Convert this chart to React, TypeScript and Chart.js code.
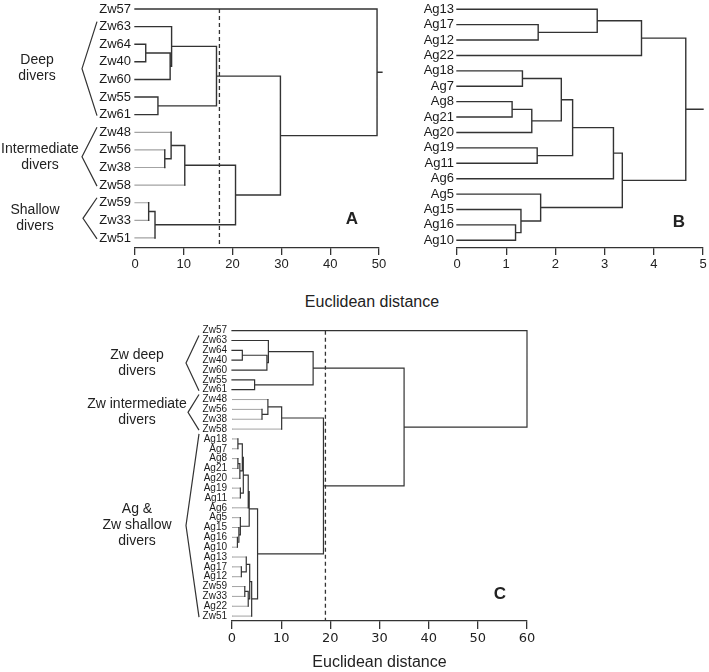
import React, { useEffect, useRef } from "react";
import { Chart, registerables } from "chart.js";
Chart.register(...registerables);

const FONT = "'Liberation Sans', Arial, Helvetica, sans-serif";
const WIDE_FONT = "'DejaVu Sans', 'Liberation Sans', Arial, sans-serif";
const DARK = "#333333";
const PALE = "#a3a3a3";

type Merge = [string, string, number];

// ---------- Panel A ----------
const leavesA = ["Zw57", "Zw63", "Zw64", "Zw40", "Zw60", "Zw55", "Zw61", "Zw48", "Zw56", "Zw38", "Zw58", "Zw59", "Zw33", "Zw51"];
const mergesA: Merge[] = [
  ["Zw64", "Zw40", 2.2], ["#0", "Zw60", 7.2], ["Zw63", "#1", 7.5], ["Zw55", "Zw61", 4.7], ["#2", "#3", 16.7],
  ["Zw56", "Zw38", 6.1], ["Zw48", "#5", 7.4], ["#6", "Zw58", 10.2], ["Zw59", "Zw33", 2.8], ["#8", "Zw51", 4.1],
  ["#7", "#9", 20.6], ["#4", "#10", 29.8], ["Zw57", "#11", 49.6],
];
const rootTailA = 50.6;
const cutA = 17.3;
const paleA = ["Zw48", "Zw56", "Zw38", "Zw58", "Zw59", "Zw33", "Zw51"];
const ticksA = [0, 10, 20, 30, 40, 50];

// ---------- Panel B ----------
const leavesB = ["Ag13", "Ag17", "Ag12", "Ag22", "Ag18", "Ag7", "Ag8", "Ag21", "Ag20", "Ag19", "Ag11", "Ag6", "Ag5", "Ag15", "Ag16", "Ag10"];
const mergesB: Merge[] = [
  ["Ag17", "Ag12", 1.65], ["Ag13", "#0", 2.85], ["#1", "Ag22", 3.75], ["Ag18", "Ag7", 1.33], ["Ag8", "Ag21", 1.12],
  ["#4", "Ag20", 1.52], ["#3", "#5", 2.12], ["Ag19", "Ag11", 1.63], ["#6", "#7", 2.35], ["#8", "Ag6", 3.18],
  ["Ag16", "Ag10", 1.19], ["Ag15", "#10", 1.3], ["Ag5", "#11", 1.7], ["#9", "#12", 3.36], ["#2", "#13", 4.65],
];
const rootTailB = 5.0;
const paleB: string[] = [];
const ticksB = [0, 1, 2, 3, 4, 5];

// ---------- Panel C ----------
const leavesC = ["Zw57", "Zw63", "Zw64", "Zw40", "Zw60", "Zw55", "Zw61", "Zw48", "Zw56", "Zw38", "Zw58",
  "Ag18", "Ag7", "Ag8", "Ag21", "Ag20", "Ag19", "Ag11", "Ag6", "Ag5", "Ag15", "Ag16", "Ag10",
  "Ag13", "Ag17", "Ag12", "Zw59", "Zw33", "Ag22", "Zw51"];
const mergesC: Merge[] = [
  ["Zw64", "Zw40", 2.1], ["#0", "Zw60", 7.1], ["Zw63", "#1", 7.4], ["Zw55", "Zw61", 4.6], ["#2", "#3", 16.5],
  ["Zw56", "Zw38", 6.1], ["Zw48", "#5", 7.3], ["#6", "Zw58", 10.1],
  ["Ag18", "Ag7", 1.2], ["Ag8", "Ag21", 1.2], ["#9", "Ag20", 1.6], ["#8", "#10", 2.1], ["Ag19", "Ag11", 1.7],
  ["#11", "#12", 2.3], ["#13", "Ag6", 3.3], ["Ag16", "Ag10", 1.1], ["Ag15", "#15", 1.4], ["Ag5", "#16", 1.7],
  ["#14", "#17", 3.5],
  ["Ag17", "Ag12", 1.9], ["Ag13", "#19", 2.9], ["Zw59", "Zw33", 2.6], ["#21", "Ag22", 3.3], ["#20", "#22", 3.6],
  ["#23", "Zw51", 4.0], ["#18", "#24", 5.2],
  ["#7", "#25", 18.6], ["#4", "#26", 35.0], ["Zw57", "#27", 60.0],
];
const rootTailC = 60.0;
const cutC = 19.0;
const paleC = ["Zw48", "Zw56", "Zw38", "Zw58", "Ag18", "Ag7", "Ag8", "Ag21", "Ag20", "Ag19", "Ag11", "Ag6", "Ag5",
  "Ag15", "Ag16", "Ag10", "Ag13", "Ag17", "Ag12", "Zw59", "Zw33", "Ag22", "Zw51"];
const ticksC = [0, 10, 20, 30, 40, 50, 60];

const axisTitle = "Euclidean distance";

interface Group { lines: string[]; from: string; to: string; textX: number; endX: number; apexX: number; }
interface Panel {
  leaves: string[]; merges: Merge[]; tail: number; cut: number | null; pale: string[]; xTicks: number[];
  box: { left: number; top: number; width: number; height: number };
  yRange: [number, number]; yAxisWidth: number; xAxisHeight: number; pad: { top: number; right: number };
  leafFont: number; leafPad: number; tickFont: number; tickFamily: string; tickLen: number; tickPad: number; lineW: number;
  title?: string; letter: { text: string; x: number; y: number }; groups: Group[]; groupLine: number;
}

function buildSegments(leaves: string[], merges: Merge[], tail: number, pale: string[]) {
  const nodes: { x: number; y: number }[] = [];
  const dark: { x: number; y: number }[] = [];
  const light: { x: number; y: number }[] = [];
  const seg = (arr: { x: number; y: number }[], x1: number, y1: number, x2: number, y2: number) => {
    arr.push({ x: x1, y: y1 }, { x: x2, y: y2 }, { x: NaN, y: NaN });
  };
  const get = (k: string) =>
    k[0] === "#" ? { ...nodes[+k.slice(1)], leaf: null as string | null } : { x: 0, y: leaves.indexOf(k), leaf: k as string | null };
  merges.forEach(([a, b, h]) => {
    const ca = get(a);
    const cb = get(b);
    [ca, cb].forEach((c) => seg(c.leaf && pale.includes(c.leaf) ? light : dark, c.x, c.y, h, c.y));
    seg(dark, h, ca.y, h, cb.y);
    nodes.push({ x: h, y: (ca.y + cb.y) / 2 });
  });
  const root = nodes[nodes.length - 1];
  if (tail > root.x) seg(dark, root.x, root.y, tail, root.y);
  return { dark, light };
}

const panels: Panel[] = [
  {
    leaves: leavesA, merges: mergesA, tail: rootTailA, cut: cutA, pale: paleA, xTicks: ticksA,
    box: { left: 0, top: 0, width: 395, height: 280 }, yRange: [-0.51, 13.57], yAxisWidth: 135, xAxisHeight: 32,
    pad: { top: 0, right: 16 }, leafFont: 13, leafPad: 4, tickFont: 13, tickFamily: FONT, tickLen: 7, tickPad: 2, lineW: 1.4,
    letter: { text: "A", x: 352, y: 219 }, groupLine: 16,
    groups: [
      { lines: ["Deep", "divers"], from: "Zw63", to: "Zw61", textX: 37, endX: 97, apexX: 82 },
      { lines: ["Intermediate", "divers"], from: "Zw48", to: "Zw58", textX: 40, endX: 97, apexX: 82 },
      { lines: ["Shallow", "divers"], from: "Zw59", to: "Zw51", textX: 35, endX: 97, apexX: 83 },
    ],
  },
  {
    leaves: leavesB, merges: mergesB, tail: rootTailB, cut: null, pale: paleB, xTicks: ticksB,
    box: { left: 395, top: 0, width: 314, height: 280 }, yRange: [-0.6, 15.5], yAxisWidth: 62, xAxisHeight: 32,
    pad: { top: 0, right: 6 }, leafFont: 13, leafPad: 3, tickFont: 13, tickFamily: FONT, tickLen: 7, tickPad: 2, lineW: 1.4,
    letter: { text: "B", x: 284, y: 222 }, groupLine: 16, groups: [],
  },
  {
    leaves: leavesC, merges: mergesC, tail: rootTailC, cut: cutC, pale: paleC, xTicks: ticksC,
    box: { left: 0, top: 315, width: 709, height: 357 }, yRange: [-0.88, 29.5], yAxisWidth: 232, xAxisHeight: 51,
    pad: { top: 7, right: 182 }, leafFont: 10, leafPad: 5, tickFont: 13, tickFamily: WIDE_FONT, tickLen: 8, tickPad: 2, lineW: 1.2,
    title: axisTitle, letter: { text: "C", x: 500, y: 279 }, groupLine: 16,
    groups: [
      { lines: ["Zw deep", "divers"], from: "Zw63", to: "Zw61", textX: 137, endX: 199, apexX: 186 },
      { lines: ["Zw intermediate", "divers"], from: "Zw48", to: "Zw58", textX: 137, endX: 199, apexX: 188 },
      { lines: ["Ag &", "Zw shallow", "divers"], from: "Ag18", to: "Zw51", textX: 137, endX: 199, apexX: 186 },
    ],
  },
];

function Dendro({ p }: { p: Panel }) {
  const ref = useRef<HTMLCanvasElement>(null);
  useEffect(() => {
    if (!ref.current) return;
    const { dark, light } = buildSegments(p.leaves, p.merges, p.tail, p.pale);
    const datasets: any[] = [
      { data: dark, showLine: true, borderColor: DARK, borderWidth: p.lineW, pointRadius: 0, borderCapStyle: "square", clip: false },
      { data: light, showLine: true, borderColor: PALE, borderWidth: p.lineW - 0.2, pointRadius: 0, borderCapStyle: "square", clip: false },
    ];
    if (p.cut !== null) {
      datasets.push({
        data: [{ x: p.cut, y: 0 }, { x: p.cut, y: p.yRange[1] }], showLine: true, borderColor: DARK,
        borderWidth: 1.3, borderDash: [4, 3], pointRadius: 0, clip: false,
      });
    }
    const annot = {
      id: "annot",
      afterDraw(chart: any) {
        const ctx = chart.ctx as CanvasRenderingContext2D;
        const ys = chart.scales.y;
        ctx.save();
        ctx.fillStyle = "#222";
        ctx.strokeStyle = "#333";
        ctx.lineWidth = 1.2;
        ctx.textAlign = "center";
        ctx.textBaseline = "middle";
        ctx.font = `bold 17px ${FONT}`;
        ctx.fillText(p.letter.text, p.letter.x, p.letter.y);
        ctx.font = `14px ${FONT}`;
        p.groups.forEach((g) => {
          const top = ys.getPixelForValue(p.leaves.indexOf(g.from)) - 5;
          const bot = ys.getPixelForValue(p.leaves.indexOf(g.to)) + 1;
          const mid = (top + bot) / 2;
          ctx.beginPath();
          ctx.moveTo(g.endX, top);
          ctx.lineTo(g.apexX, mid);
          ctx.lineTo(g.endX, bot);
          ctx.stroke();
          const y0 = mid - ((g.lines.length - 1) * p.groupLine) / 2;
          g.lines.forEach((t, i) => ctx.fillText(t, g.textX, y0 + i * p.groupLine));
        });
        ctx.restore();
      },
    };
    const chart = new Chart(ref.current, {
      type: "scatter",
      data: { datasets },
      plugins: [annot],
      options: {
        animation: false,
        responsive: false,
        events: [],
        layout: { padding: { top: p.pad.top, right: p.pad.right, left: 0, bottom: 0 } },
        plugins: { legend: { display: false }, tooltip: { enabled: false } },
        scales: {
          x: {
            type: "linear",
            position: "bottom",
            min: p.xTicks[0],
            max: p.xTicks[p.xTicks.length - 1],
            afterBuildTicks: (s: any) => { s.ticks = p.xTicks.map((v) => ({ value: v })); },
            ticks: { font: { family: p.tickFamily, size: p.tickFont }, color: "#222", padding: p.tickPad, maxRotation: 0, autoSkip: false },
            grid: { display: true, drawOnChartArea: false, drawTicks: true, tickLength: p.tickLen, color: DARK, lineWidth: 1.3 },
            border: { display: true, color: DARK, width: 1.3 },
            title: p.title
              ? { display: true, text: p.title, font: { family: FONT, size: 16 }, color: "#222", padding: { top: 0, bottom: 0 } }
              : { display: false },
            afterFit: (s: any) => { s.height = p.xAxisHeight; s.paddingLeft = 0; s.paddingRight = 0; },
          },
          y: {
            type: "linear",
            reverse: true,
            min: p.yRange[0],
            max: p.yRange[1],
            afterBuildTicks: (s: any) => { s.ticks = p.leaves.map((_, i) => ({ value: i })); },
            ticks: {
              callback: (v: any) => p.leaves[v] ?? "",
              autoSkip: false,
              font: { family: FONT, size: p.leafFont },
              color: "#1a1a1a",
              padding: p.leafPad,
            },
            grid: { display: false, drawTicks: false },
            border: { display: false },
            afterFit: (s: any) => { s.width = p.yAxisWidth; s.paddingTop = 0; s.paddingBottom = 0; },
          },
        },
      } as any,
    });
    return () => chart.destroy();
  }, [p]);
  return (
    <canvas
      ref={ref}
      width={p.box.width}
      height={p.box.height}
      style={{ position: "absolute", left: p.box.left, top: p.box.top, width: p.box.width, height: p.box.height }}
    />
  );
}

export default function App() {
  return (
    <div style={{ position: "absolute", left: 0, top: 0, width: 709, height: 672, background: "#fff", overflow: "hidden" }}>
      {panels.map((p, i) => (
        <Dendro key={i} p={p} />
      ))}
      <div
        style={{
          position: "absolute", left: 172, top: 292, width: 400, textAlign: "center",
          font: `16px ${FONT}`, lineHeight: "20px", color: "#222",
        }}
      >
        {axisTitle}
      </div>
    </div>
  );
}
